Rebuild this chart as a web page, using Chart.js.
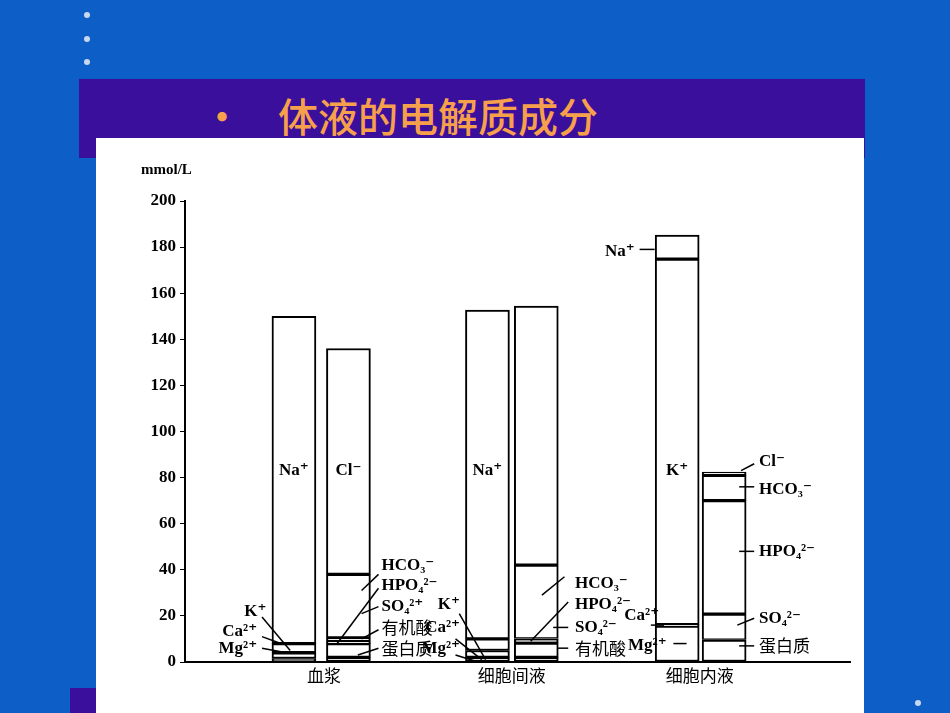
<!DOCTYPE html>
<html>
<head>
<style>
  body { margin: 0; width: 950px; height: 713px; background: #0d5ec6; position: relative; overflow: hidden; font-family: "Noto Sans CJK SC", sans-serif; }
  .dot { position: absolute; width: 6px; height: 6px; border-radius: 3px; background: #c9d8f0; }
  .banner { position: absolute; left: 79px; top: 79px; width: 786px; height: 79px; background: #3a0f9c; }
  .title { position: absolute; left: 202px; top: 86px; color: #f7a04c; font-size: 40px; font-weight: 500; white-space: nowrap; }
  .panel { position: absolute; left: 96px; top: 138px; width: 768px; height: 575px; background: #fff; }
  .corner { position: absolute; left: 70px; top: 688px; width: 26px; height: 25px; background: #3a0f9c; }
</style>
<title>体液的电解质成分</title>
<script src="https://cdn.jsdelivr.net/npm/chart.js@4.4.0/dist/chart.umd.min.js"></script>
</head>
<body>
  <div class="dot" style="left:84px;top:12px"></div>
  <div class="dot" style="left:84px;top:36px"></div>
  <div class="dot" style="left:84px;top:59px"></div>
  <div class="dot" style="left:915px;top:700px"></div>
  <div class="banner"></div>
  <div class="title">•&nbsp;&nbsp;&nbsp;&nbsp;体液的电解质成分</div>
  <div class="corner"></div>
  <div class="panel"><canvas id="chart" width="768" height="575"></canvas></div>
<script>
  // groups and bar slots (cation / anion for each fluid)
  const groups = ['血浆', '细胞间液', '细胞内液'];
  const groupX = [1, 2, 3];
  const slotX = [0.84, 1.13, 1.87, 2.13, 2.88, 3.13];

  // segments from bottom to top for each bar (mmol/L)
  const plasmaCat = [1.5, 2.5, 4, 142];          // Mg, Ca, K, Na
  const plasmaAn = [2, 6, 1, 1.4, 27.6, 98];     // 蛋白质, 有机酸, SO4, HPO4, HCO3, Cl
  const interCat = [2, 3, 5, 142.7];             // Mg, Ca, K, Na
  const interAn = [2, 6.2, 1.8, 0, 32, 112.4];   // 蛋白质, 有机酸, SO4, HPO4, HCO3, Cl
  const intraCat = [15.6, 0.6, 158.6, 10.4];     // Mg, Ca, K, Na
  const intraAn = [9.5, 0, 11.3, 49.2, 11, 1.4]; // 蛋白质, -, SO4, HPO4, HCO3, Cl
  const bars = [plasmaCat, plasmaAn, interCat, interAn, intraCat, intraAn];

  const yTicks = [0, 20, 40, 60, 80, 100, 120, 140, 160, 180, 200];

  const nLevels = 6;
  const datasets = [];
  for (let l = 0; l < nLevels; l++) {
    datasets.push({
      data: bars.map((b, i) => ({ x: slotX[i], y: b[l] || 0 })),
      backgroundColor: '#fff',
      borderColor: '#000',
      borderWidth: ctx => (ctx.raw && ctx.raw.y > 0 ? 2 : 0),
      borderSkipped: false,
      barThickness: 44
    });
  }

  const serif = '"Liberation Serif", "DejaVu Serif", serif';
  const cjk = '"Noto Sans CJK SC", sans-serif';

  // [text, x(unit), y(value), align, leader line [x1,y1,x2,y2] or null]
  const notes = [
    ['Na⁺', 0.84, 83, 'center', null],
    ['Cl⁻', 1.13, 83, 'center', null],
    ['Na⁺', 1.87, 83, 'center', null],
    ['K⁺', 2.88, 83, 'center', null],
    ['K⁺', 0.71, 22, 'right', [0.67, 19.5, 0.82, 5]],
    ['Ca²⁺', 0.66, 13, 'right', [0.67, 11, 0.77, 8]],
    ['Mg²⁺', 0.66, 6, 'right', [0.67, 6, 0.8, 4]],
    ['HCO₃⁻', 1.29, 42, 'left', [1.2, 31, 1.29, 38]],
    ['HPO₄²⁻', 1.29, 33, 'left', [1.07, 8, 1.29, 32]],
    ['SO₄²⁺', 1.29, 24, 'left', [1.2, 21, 1.29, 24]],
    ['有机酸', 1.29, 15, 'left', [1.2, 10, 1.29, 14]],
    ['蛋白质', 1.29, 6, 'left', [1.18, 3, 1.29, 6]],
    ['K⁺', 1.74, 25, 'right', [1.72, 21, 1.86, 1]],
    ['Ca²⁺', 1.74, 15, 'right', [1.7, 10, 1.84, 1]],
    ['Mg²⁺', 1.74, 6, 'right', [1.7, 3, 1.82, 0]],
    ['HCO₃⁻', 2.32, 34, 'left', [2.16, 29, 2.28, 37]],
    ['HPO₄²⁻', 2.32, 25, 'left', [2.1, 9, 2.3, 26]],
    ['SO₄²⁻', 2.32, 15, 'left', [2.22, 15, 2.3, 15]],
    ['有机酸', 2.32, 6, 'left', [2.24, 6, 2.3, 6]],
    ['Na⁺', 2.67, 178, 'right', [2.68, 179, 2.76, 179]],
    ['Ca²⁺', 2.8, 20, 'right', [2.74, 16, 2.81, 16]],
    ['Mg²⁺', 2.84, 7, 'right', [2.86, 8, 2.93, 8]],
    ['Cl⁻', 3.3, 87, 'left', [3.22, 83, 3.29, 86]],
    ['HCO₃⁻', 3.3, 75, 'left', [3.21, 76, 3.29, 76]],
    ['HPO₄²⁻', 3.3, 48, 'left', [3.21, 48, 3.29, 48]],
    ['SO₄²⁻', 3.3, 19, 'left', [3.2, 16, 3.29, 19]],
    ['蛋白质', 3.3, 7, 'left', [3.21, 7, 3.29, 7]]
  ];

  const labelPlugin = {
    id: 'labels',
    afterDraw(chart) {
      const c = chart.ctx, xs = chart.scales.x, ys = chart.scales.y;
      c.save();
      c.fillStyle = '#000';
      c.strokeStyle = '#000';
      c.lineWidth = 1.5;
      c.textBaseline = 'middle';
      notes.forEach(n => {
        const cjkText = /[\u4e00-\u9fff]/.test(n[0]);
        c.font = cjkText ? '17px ' + cjk : 'bold 17px ' + serif;
        c.textAlign = n[3];
        const pad = n[3] === 'left' ? 3 : (n[3] === 'right' ? -3 : 0);
        c.fillText(n[0], xs.getPixelForValue(n[1]) + pad, ys.getPixelForValue(n[2]));
        if (n[4]) {
          const l = n[4];
          c.beginPath();
          c.moveTo(xs.getPixelForValue(l[0]), ys.getPixelForValue(l[1]));
          c.lineTo(xs.getPixelForValue(l[2]), ys.getPixelForValue(l[3]));
          c.stroke();
        }
      });
      c.font = '17px ' + cjk;
      c.textAlign = 'center';
      groups.forEach((g, i) => c.fillText(g, xs.getPixelForValue(groupX[i]), ys.bottom + 14));
      c.font = 'bold 15px ' + serif;
      c.textAlign = 'left';
      c.fillText('mmol/L', 45, 32);
      c.restore();
    }
  };

  new Chart(document.getElementById('chart'), {
    type: 'bar',
    data: { datasets: datasets },
    plugins: [labelPlugin],
    options: {
      responsive: false,
      animation: false,
      layout: { padding: { top: 63, right: 14, left: 0, bottom: 0 } },
      plugins: { legend: { display: false }, tooltip: { enabled: false } },
      scales: {
        x: {
          type: 'linear', stacked: true, min: 0.26, max: 3.8, offset: false,
          ticks: { display: false },
          grid: { display: false },
          border: { color: '#000', width: 2 },
          afterFit: s => { s.height = 51; }
        },
        y: {
          stacked: true, min: 0, max: 200,
          afterBuildTicks: s => { s.ticks = yTicks.map(v => ({ value: v })); },
          ticks: { color: '#000', font: { family: serif, size: 17, weight: 'bold' }, padding: 4 },
          grid: { drawOnChartArea: false, tickLength: 5, color: '#000' },
          border: { color: '#000', width: 2 },
          afterFit: s => { s.width = 89; }
        }
      }
    }
  });
</script>
</body>
</html>
